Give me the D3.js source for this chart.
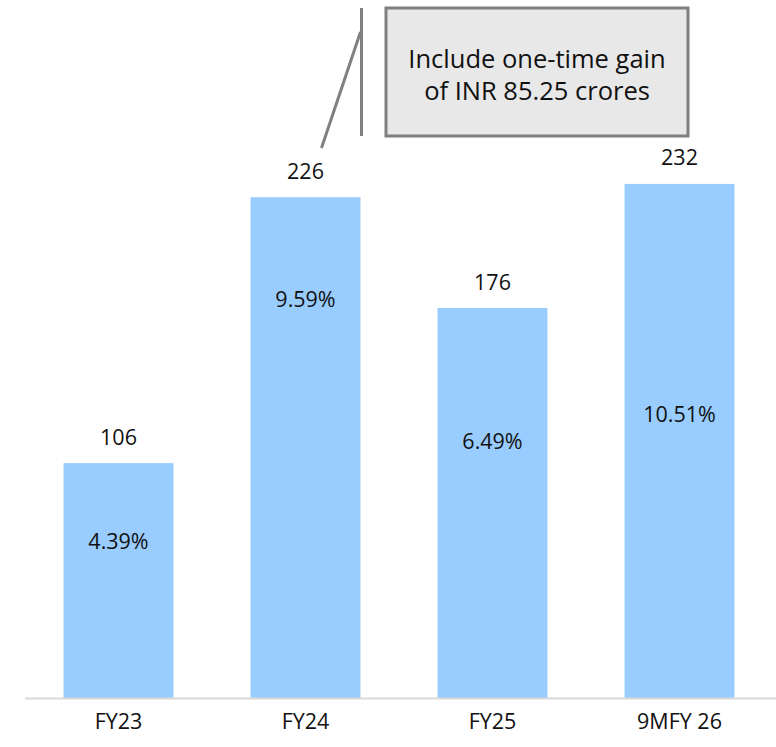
<html>
<head>
	<style>
		body { margin:0; padding:0; background:#fff; font-family:"Open Sans", sans-serif; }
		text { fill:#111; font-size:21.5px; }
		text.note { font-size:25.5px; }
	</style>
</head>
<body>
	<svg width="776" height="747"></svg>
	<script src="https://d3js.org/d3.v7.min.js"></script>
	<script>
		var categories = ["FY23", "FY24", "FY25", "9MFY 26"];
		var values = [106, 226, 176, 232];
		var margins = ["4.39%", "9.59%", "6.49%", "10.51%"];
		// where the % labels sit inside each bar, in value units
		var marginLabelAt = [71, 180.5, 116, 128.5];
		var note = ["Include one-time gain", "of INR 85.25 crores"];

		var svg = d3.select("svg");

		var x = d3.scaleBand().domain(categories).range([25, 773]).paddingInner(0.412).paddingOuter(0.206);
		var y = d3.scaleLinear().domain([0, 315]).range([698, 0]);

		svg.selectAll("rect.bar")
			.data(values)
			.enter()
			.append("rect")
			.attr("class", "bar")
			.attr("x", function(d, i) { return x(categories[i]); })
			.attr("y", function(d) { return y(d); })
			.attr("width", x.bandwidth())
			.attr("height", function(d) { return y(0) - y(d); })
			.style("fill", "#99ccff");

		// baseline
		svg.append("line")
			.attr("x1", 25).attr("x2", 776)
			.attr("y1", y(0) + 0.5).attr("y2", y(0) + 0.5)
			.style("stroke", "#d9d9d9").style("stroke-width", 2);

		svg.selectAll("text.val")
			.data(values)
			.enter()
			.append("text")
			.attr("x", function(d, i) { return x(categories[i]) + x.bandwidth() / 2; })
			.attr("y", function(d) { return y(d) - 27; })
			.attr("text-anchor", "middle")
			.attr("dominant-baseline", "central")
			.text(function(d) { return d; });

		svg.selectAll("text.pct")
			.data(margins)
			.enter()
			.append("text")
			.attr("x", function(d, i) { return x(categories[i]) + x.bandwidth() / 2; })
			.attr("y", function(d, i) { return y(marginLabelAt[i]); })
			.attr("text-anchor", "middle")
			.attr("dominant-baseline", "central")
			.text(function(d) { return d; });

		svg.selectAll("text.cat")
			.data(categories)
			.enter()
			.append("text")
			.attr("x", function(d) { return x(d) + x.bandwidth() / 2; })
			.attr("y", 720)
			.attr("text-anchor", "middle")
			.attr("dominant-baseline", "central")
			.text(function(d) { return d; });

		// callout for FY24
		var bx = x("FY24") + x.bandwidth() + 1;
		svg.append("line")
			.attr("x1", bx).attr("x2", bx)
			.attr("y1", 8).attr("y2", 136)
			.style("stroke", "#808080").style("stroke-width", 3);
		svg.append("line")
			.attr("x1", bx - 1).attr("y1", 32)
			.attr("x2", bx - 40).attr("y2", 148)
			.style("stroke", "#808080").style("stroke-width", 3);

		svg.append("rect")
			.attr("x", 386).attr("y", 8)
			.attr("width", 302).attr("height", 128)
			.style("fill", "#e8e8e8")
			.style("stroke", "#808080").style("stroke-width", 3);

		svg.selectAll("text.note")
			.data(note)
			.enter()
			.append("text")
			.attr("class", "note")
			.attr("x", 537)
			.attr("y", function(d, i) { return 58 + i * 32; })
			.attr("text-anchor", "middle")
			.attr("dominant-baseline", "central")
			.text(function(d) { return d; });
	</script>
</body>
</html>
